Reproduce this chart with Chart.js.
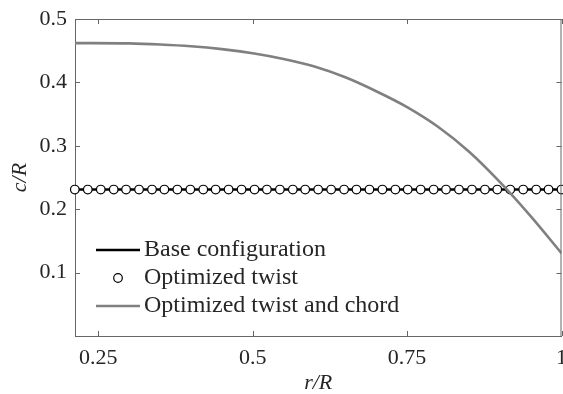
<!DOCTYPE html>
<html>
<head>
<meta charset="utf-8">
<script src="https://cdn.jsdelivr.net/npm/chart.js@4"></script>
<style>
  html, body { margin: 0; padding: 0; background: #fff; overflow: hidden; }
  #wrap { width: 563px; height: 394px; overflow: hidden; }
</style>
</head>
<body>
<div id="wrap"><canvas id="myChart" width="567" height="394"></canvas></div>
<script>
// 데이터 (r/R 위치와 c/R 값)
const twistR = [0.212, 0.233, 0.254, 0.275, 0.295, 0.316, 0.337, 0.357, 0.378, 0.399,
  0.420, 0.440, 0.461, 0.482, 0.503, 0.523, 0.544, 0.565, 0.585, 0.606,
  0.627, 0.648, 0.668, 0.689, 0.710, 0.731, 0.751, 0.772, 0.793, 0.813,
  0.834, 0.855, 0.876, 0.896, 0.917, 0.938, 0.959, 0.979, 1.000];
const baseC = 0.231; // base / optimized twist chord is constant
const chordR = [0.212, 0.30, 0.35, 0.40, 0.45, 0.50, 0.55, 0.60, 0.65, 0.70,
  0.75, 0.80, 0.85, 0.90, 0.95, 1.0];
const chordC = [0.462, 0.4615, 0.4598, 0.457, 0.4525, 0.446, 0.437, 0.425, 0.408, 0.386,
  0.361, 0.330, 0.291, 0.243, 0.189, 0.1305];

const labels = ["Base configuration", "Optimized twist", "Optimized twist and chord"];
const xTicks = [0.25, 0.5, 0.75, 1];
const xTickLabels = ["0.25", "0.5", "0.75", "1"];
const yTicks = [0, 0.1, 0.2, 0.3, 0.4, 0.5];
const yTickLabels = ["", "0.1", "0.2", "0.3", "0.4", "0.5"];

const FONT = "'Liberation Serif', 'Times New Roman', serif";
const AXIS = "#666666";
const TEXT = "#262626";
const GREY = "#808080";

const ctx = document.getElementById("myChart").getContext("2d");

// 박스 테두리와 안쪽 눈금
const boxPlugin = {
  id: "box",
  afterDraw(chart) {
    const c = chart.ctx;
    const a = chart.chartArea;
    const xs = chart.scales.x, ys = chart.scales.y;
    c.save();
    c.strokeStyle = AXIS;
    c.lineWidth = 1;
    c.beginPath();
    c.moveTo(a.left, a.top + 0.5);
    c.lineTo(a.right, a.top + 0.5);
    c.moveTo(a.right - 0.5, a.top);
    c.lineTo(a.right - 0.5, a.bottom);
    xTicks.forEach(v => {
      const px = Math.round(xs.getPixelForValue(v)) + 0.5;
      c.moveTo(px, a.bottom); c.lineTo(px, a.bottom - 5);
      c.moveTo(px, a.top); c.lineTo(px, a.top + 5);
    });
    yTicks.forEach(v => {
      const py = Math.round(ys.getPixelForValue(v)) + 0.5;
      c.moveTo(a.left, py); c.lineTo(a.left + 5, py);
      c.moveTo(a.right, py); c.lineTo(a.right - 5, py);
    });
    c.stroke();
    c.restore();
  }
};

// 범례 (차트 안쪽 왼쪽 아래)
const legendPlugin = {
  id: "innerLegend",
  afterDraw(chart) {
    const c = chart.ctx;
    const rows = [250, 278, 306];
    const x0 = 96, x1 = 140, tx = 144;
    c.save();
    c.font = "24px " + FONT;
    c.fillStyle = TEXT;
    c.textBaseline = "alphabetic";
    chart.data.datasets.forEach((ds, i) => {
      const y = rows[i];
      if (ds.showLine !== false) {
        c.strokeStyle = ds.borderColor;
        c.lineWidth = ds.borderWidth;
        c.beginPath();
        c.moveTo(x0, y); c.lineTo(x1, y);
        c.stroke();
      } else {
        c.strokeStyle = ds.pointBorderColor;
        c.fillStyle = ds.pointBackgroundColor;
        c.lineWidth = ds.pointBorderWidth;
        c.beginPath();
        c.arc((x0 + x1) / 2, y, ds.pointRadius, 0, Math.PI * 2);
        c.fill(); c.stroke();
        c.fillStyle = TEXT;
      }
      c.fillText(ds.label, tx, y + 6);
    });
    c.restore();
  }
};

const myChart = new Chart(ctx, {
  type: "line",
  data: {
    datasets: [
      {
        label: labels[0],
        data: twistR.map(r => ({ x: r, y: baseC })),
        borderColor: "#000000",
        borderWidth: 2.5,
        pointRadius: 0,
        order: 2,
      },
      {
        label: labels[1],
        data: twistR.map(r => ({ x: r, y: baseC })),
        showLine: false,
        pointRadius: 4.3,
        pointBorderWidth: 1.2,
        pointBorderColor: "#000000",
        pointBackgroundColor: "#ffffff",
        clip: false,
        order: 1,
      },
      {
        label: labels[2],
        data: chordR.map((r, i) => ({ x: r, y: chordC[i] })),
        borderColor: GREY,
        borderWidth: 2.6,
        pointRadius: 0,
        cubicInterpolationMode: "monotone",
        order: 0,
      },
    ],
  },
  options: {
    responsive: false,
    animation: false,
    layout: { padding: { top: 19, right: 1.5, left: 0, bottom: 0 } },
    plugins: { legend: { display: false }, tooltip: { enabled: false } },
    scales: {
      x: {
        type: "linear",
        min: 0.2123,
        max: 1,
        afterBuildTicks: s => { s.ticks = xTicks.map(v => ({ value: v })); },
        afterFit: s => { s.height = 58; s.paddingLeft = 0; s.paddingRight = 0; },
        grid: { display: false, drawTicks: false },
        border: { display: true, color: AXIS, width: 1 },
        ticks: {
          padding: 9,
          maxRotation: 0,
          autoSkip: false,
          color: TEXT,
          font: { family: FONT, size: 22 },
          callback: (v) => xTickLabels[xTicks.indexOf(v)],
        },
        title: {
          display: true,
          text: "r/R",
          color: TEXT,
          font: { family: FONT, size: 22, style: "italic", lineHeight: 1 },
          padding: { top: 0, bottom: 0 },
        },
      },
      y: {
        min: 0,
        max: 0.5,
        afterBuildTicks: s => { s.ticks = yTicks.map(v => ({ value: v })); },
        afterFit: s => { s.width = 75; s.paddingTop = 0; s.paddingBottom = 0; },
        grid: { display: false, drawTicks: false },
        border: { display: true, color: AXIS, width: 1 },
        ticks: {
          padding: 8,
          color: TEXT,
          font: { family: FONT, size: 22 },
          callback: (v) => yTickLabels[yTicks.indexOf(v)],
        },
        title: {
          display: true,
          text: "c/R",
          color: TEXT,
          font: { family: FONT, size: 22, style: "italic", lineHeight: 1 },
          padding: { top: 9, bottom: 0 },
        },
      },
    },
  },
  plugins: [boxPlugin, legendPlugin],
});
</script>
</body>
</html>
